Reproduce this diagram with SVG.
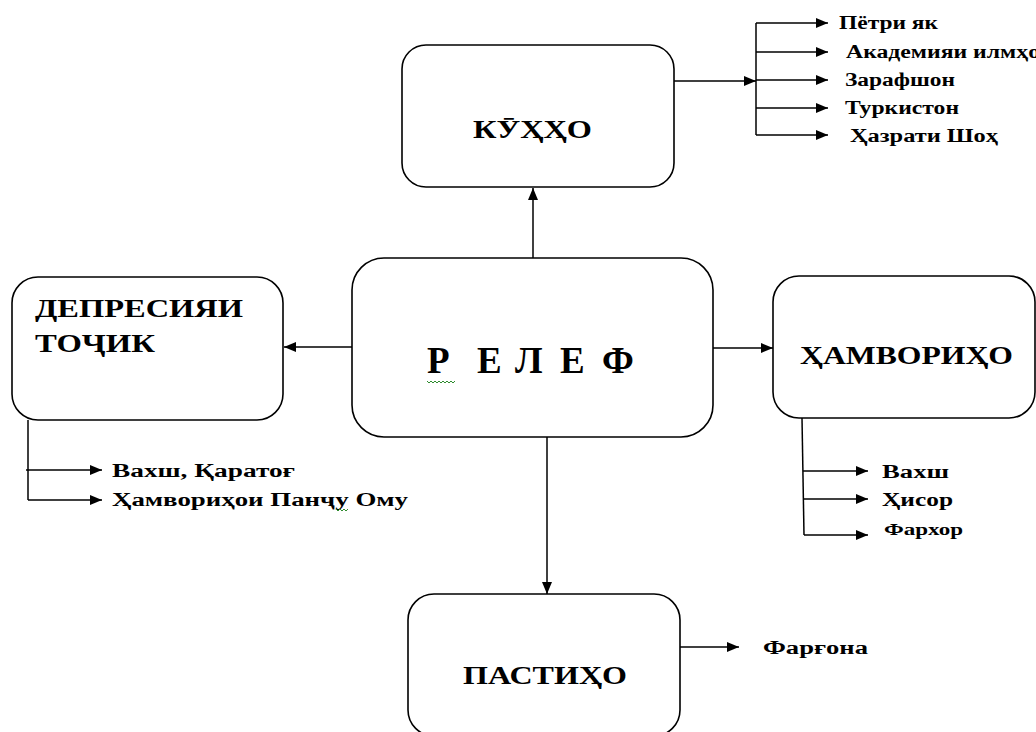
<svg xmlns="http://www.w3.org/2000/svg" width="1036" height="732" viewBox="0 0 1036 732">
<style>
.box{fill:#fff;stroke:#000;stroke-width:1.6}
.ln{fill:none;stroke:#000;stroke-width:1.5}
.t{font-family:"Liberation Serif","DejaVu Serif","Times New Roman",serif;font-weight:bold;fill:#000}
.big{font-size:26px}
.sm{font-size:18px}
.sq{fill:none;stroke:#2e8b2e;stroke-width:1}
</style>
<defs>
<marker id="ah" viewBox="0 0 12 10" refX="12" refY="5" markerWidth="12" markerHeight="10" markerUnits="userSpaceOnUse" orient="auto">
<path d="M0,0 L12,5 L0,10 z" fill="#000"/>
</marker>
</defs>
<rect width="1036" height="732" fill="#fff"/>
<g id="connectors">
<path class="ln" d="M533,258 V188" marker-end="url(#ah)"/>
<path class="ln" d="M547,437 V594" marker-end="url(#ah)"/>
<path class="ln" d="M352,347 H284" marker-end="url(#ah)"/>
<path class="ln" d="M713,348 H773" marker-end="url(#ah)"/>
<path class="ln" d="M674,81 H756" marker-end="url(#ah)"/>
<path class="ln" d="M756,23 V135"/>
<path class="ln" d="M756,23 H828" marker-end="url(#ah)"/>
<path class="ln" d="M756,52 H828" marker-end="url(#ah)"/>
<path class="ln" d="M756,80 H828" marker-end="url(#ah)"/>
<path class="ln" d="M756,108 H828" marker-end="url(#ah)"/>
<path class="ln" d="M756,135 H828" marker-end="url(#ah)"/>
<path class="ln" d="M28,420 V500"/>
<path class="ln" d="M26,470 H102" marker-end="url(#ah)"/>
<path class="ln" d="M28,500 H102" marker-end="url(#ah)"/>
<path class="ln" d="M802,418 L804,535"/>
<path class="ln" d="M803,471 H868" marker-end="url(#ah)"/>
<path class="ln" d="M803,499 H868" marker-end="url(#ah)"/>
<path class="ln" d="M804,535 H868" marker-end="url(#ah)"/>
<path class="ln" d="M680,647 H739" marker-end="url(#ah)"/>
</g>
<g id="relef">
<rect class="box" x="352" y="258" width="361" height="179" rx="32"/>
<text class="t" font-size="37" y="373"><tspan x="427">Р</tspan><tspan x="477">Е</tspan><tspan x="515">Л</tspan><tspan x="560">Е</tspan><tspan x="602">Ф</tspan></text>
<path class="sq" d="M427,381 l2,2 l2,-2 l2,2 l2,-2 l2,2 l2,-2 l2,2 l2,-2 l2,2 l2,-2 l2,2 l2,-2 l2,2 l2,-2"/>
</g>
<g id="kuhho">
<rect class="box" x="402" y="45" width="272" height="142" rx="24"/>
<text class="t big" x="473" y="138" textLength="119" lengthAdjust="spacingAndGlyphs">КӮҲҲО</text>
</g>
<g id="kuhho-list">
<text class="t sm" x="839" y="29" textLength="99" lengthAdjust="spacingAndGlyphs">Пётри як</text>
<text class="t sm" x="846" y="58" textLength="194" lengthAdjust="spacingAndGlyphs">Академияи илмҳо</text>
<text class="t sm" x="845" y="86" textLength="110" lengthAdjust="spacingAndGlyphs">Зарафшон</text>
<text class="t sm" x="845" y="114" textLength="114" lengthAdjust="spacingAndGlyphs">Туркистон</text>
<text class="t sm" x="850" y="142" textLength="148" lengthAdjust="spacingAndGlyphs">Ҳазрати Шоҳ</text>
</g>
<g id="depressia">
<rect class="box" x="12" y="277" width="271" height="143" rx="26"/>
<text class="t big" x="35" y="317" textLength="208" lengthAdjust="spacingAndGlyphs">ДЕПРЕСИЯИ</text>
<text class="t big" x="35" y="352" textLength="120" lengthAdjust="spacingAndGlyphs">ТОҶИК</text>
</g>
<g id="depressia-list">
<text class="t sm" x="112" y="477" textLength="183" lengthAdjust="spacingAndGlyphs">Вахш, Қаратоғ</text>
<text class="t sm" x="112" y="506" textLength="296" lengthAdjust="spacingAndGlyphs">Ҳамвориҳои Панҷу Ому</text>
<path class="sq" d="M336,509 l2,2 l2,-2 l2,2 l2,-2 l2,2 l2,-2"/>
</g>
<g id="hamvoriho">
<rect class="box" x="773" y="276" width="262" height="142" rx="26"/>
<text class="t big" x="800" y="364" textLength="213" lengthAdjust="spacingAndGlyphs">ҲАМВОРИҲО</text>
</g>
<g id="hamvoriho-list">
<text class="t sm" x="882" y="478" textLength="67" lengthAdjust="spacingAndGlyphs">Вахш</text>
<text class="t sm" x="882" y="506" textLength="71" lengthAdjust="spacingAndGlyphs">Ҳисор</text>
<text class="t" font-size="16" x="884" y="535" textLength="79" lengthAdjust="spacingAndGlyphs">Фархор</text>
</g>
<g id="pastiho">
<rect class="box" x="408" y="594" width="272" height="142" rx="26"/>
<text class="t big" x="463" y="684" textLength="164" lengthAdjust="spacingAndGlyphs">ПАСТИҲО</text>
</g>
<g id="pastiho-list">
<text class="t sm" x="763" y="654" textLength="105" lengthAdjust="spacingAndGlyphs">Фарғона</text>
</g>
</svg>
